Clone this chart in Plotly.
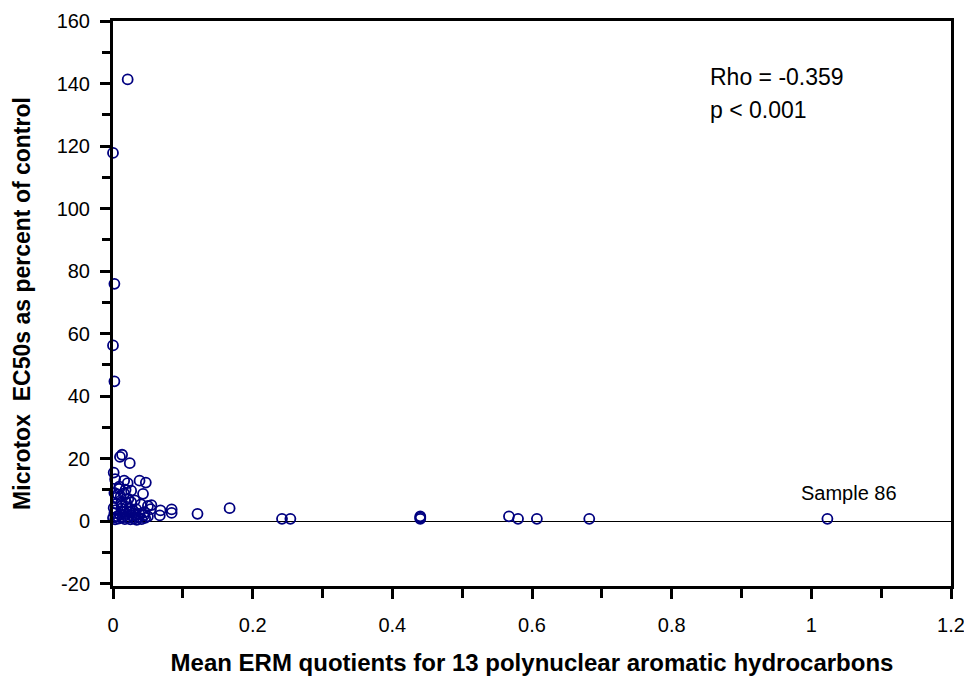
import plotly.graph_objects as go

# ERM quotient (x) vs Microtox EC50 as % of control (y)
erm_q = [0.021, 0.000, 0.002, 0.000, 0.002,
         0.010, 0.013, 0.024, 0.001, 0.003, 0.016, 0.021, 0.038, 0.047, -0.005,
         0.009, 0.026, 0.043, 0.022, 0.031, -0.002, 0.005, 0.012, 0.040, 0.050,
         0.055, 0.054, 0.068, 0.084, 0.084, 0.044, 0.067, 0.121, 0.167, 0.242,
         0.254, 0.440, 0.440, 0.440, 0.567, 0.580, 0.607, 0.682, 1.023,
         0.000, 0.002, 0.004, 0.006, 0.008, 0.010, 0.012, 0.014, 0.015, 0.017,
         0.018, 0.020, 0.022, 0.023, 0.025, 0.027, 0.028, 0.030, 0.032, 0.034,
         0.036, 0.001, 0.003, 0.005, 0.007, 0.011, 0.013, 0.016, 0.019, 0.024,
         0.026, 0.029, 0.033, 0.038, 0.041, 0.046, -0.003, -0.004, 0.009, 0.018,
         0.002, 0.045, 0.050]
ec50_pct = [141.3, 117.8, 75.9, 56.2, 44.7,
            20.5, 21.2, 18.5, 15.5, 13.4, 12.9, 12.1, 12.9, 12.3, 9.7,
            10.3, 9.7, 8.7, 7.1, 6.6, 6.6, 5.5, 6.0, 5.3, 4.8,
            5.1, 3.8, 3.4, 3.7, 2.6, 1.8, 1.8, 2.3, 4.1, 0.7,
            0.7, 1.5, 1.1, 0.7, 1.5, 0.7, 0.7, 0.7, 0.7,
            1.0, 2.5, 3.5, 1.5, 0.8, 2.0, 4.0, 1.2, 3.0, 0.6,
            2.2, 4.5, 1.0, 2.8, 0.5, 1.7, 3.3, 0.8, 2.0, 0.4,
            1.2, 4.2, 0.5, 7.5, 8.5, 7.8, 5.0, 8.8, 5.8, 4.0,
            6.0, 2.5, 3.8, 2.2, 0.6, 1.0, 3.0, 1.5, 11.0, 10.0,
            9.0, 2.8, 1.5]

y_ticks = [-20, 0, 20, 40, 60, 80, 100, 120, 140, 160]
y_labels = ["-20", "0", "20", "40", "60", "80", "100", "120", "140", "160"]
x_ticks = [0, 0.2, 0.4, 0.6, 0.8, 1.0, 1.2]
x_labels = ["0", "0.2", "0.4", "0.6", "0.8", "1", "1.2"]

font = "Liberation Sans, Arial, sans-serif"

fig = go.Figure()
fig.add_trace(go.Scatter(
    x=erm_q, y=ec50_pct, mode="markers", cliponaxis=False,
    marker=dict(symbol="circle-open", size=10, color="#000080",
                line=dict(width=1.8, color="#000080")),
    showlegend=False))

fig.add_annotation(x=0.852, y=142, text="Rho = -0.359", showarrow=False,
                   xanchor="left", font=dict(family=font, size=23, color="black"))
fig.add_annotation(x=0.852, y=131.5, text="p &lt; 0.001", showarrow=False,
                   xanchor="left", font=dict(family=font, size=23, color="black"))
fig.add_annotation(x=1.054, y=9, text="Sample 86", showarrow=False,
                   font=dict(family=font, size=20, color="black"))

axis_common = dict(showline=True, mirror=True, linecolor="black", linewidth=3,
                   ticks="outside", ticklen=10, tickwidth=3, tickcolor="black",
                   showgrid=False, automargin=False,
                   tickfont=dict(family=font, size=20, color="black"))

fig.update_xaxes(range=[0, 1.2], tickvals=x_ticks, ticktext=x_labels, zeroline=False,
                 ticklabelstandoff=9,
                 minor=dict(dtick=0.1, ticks="outside", ticklen=9, tickwidth=2.5, tickcolor="black"),
                 title=dict(text="<b>Mean ERM quotients for 13 polynuclear aromatic hydrocarbons</b>",
                            font=dict(family=font, size=24, color="black"), standoff=20),
                 **axis_common)
fig.update_yaxes(range=[-20.8, 160], tickvals=y_ticks, ticktext=y_labels,
                 zeroline=True, zerolinecolor="black", zerolinewidth=1.2,
                 ticklabelstandoff=6,
                 minor=dict(dtick=10, ticks="outside", ticklen=8, tickwidth=2.5, tickcolor="black"),
                 title=dict(text="<b>Microtox\u00a0 EC50s as percent of control</b>",
                            font=dict(family=font, size=23, color="black"), standoff=20),
                 **axis_common)

# page body has an 8px margin, so size the figure to fit the 972x687 window
fig.update_layout(width=964, height=679, plot_bgcolor="white", paper_bgcolor="white",
                  margin=dict(l=105, r=21, t=13, b=101))

fig.write_html("out.html")
